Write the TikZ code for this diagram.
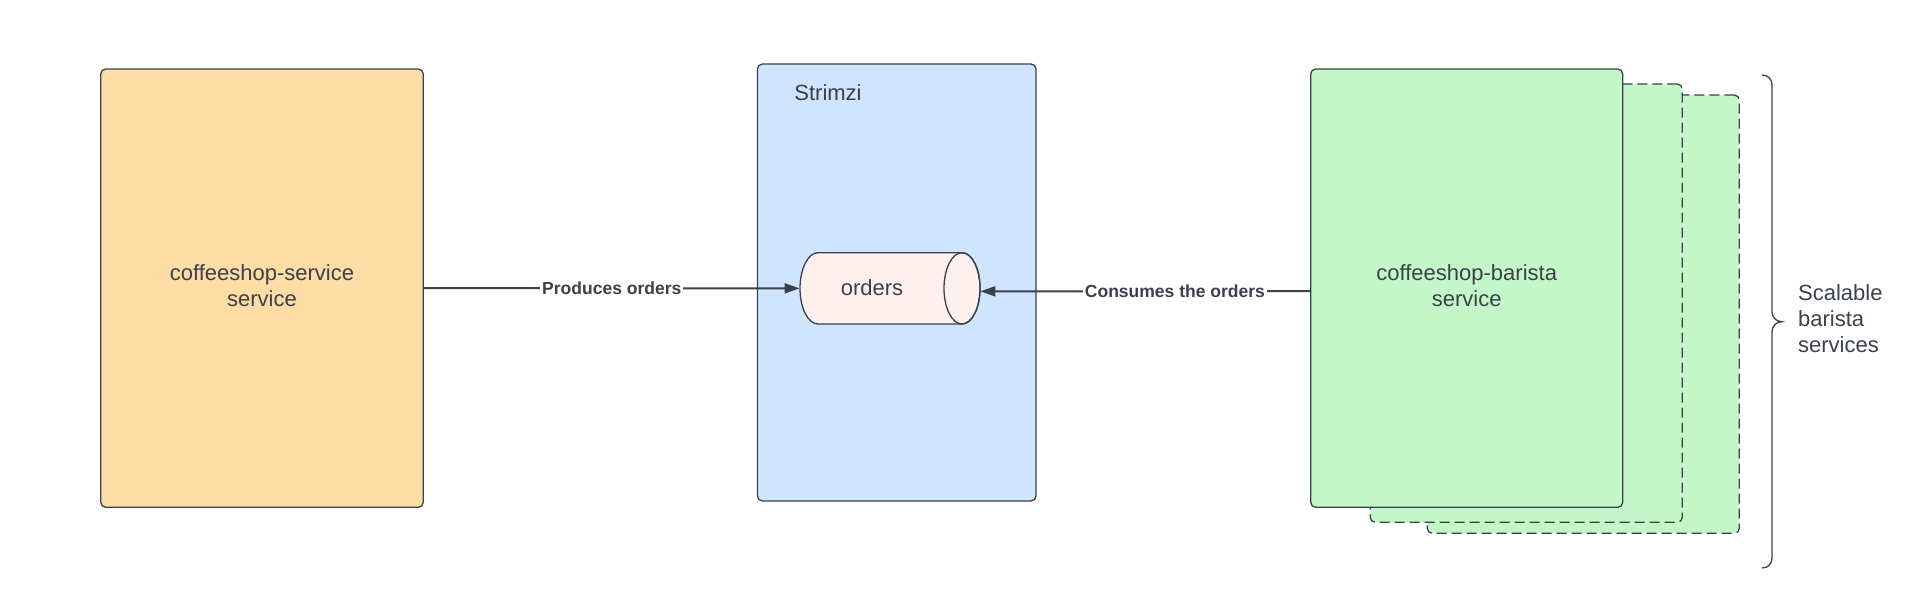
\documentclass[tikz,border=0pt]{standalone}
\usepackage{fontspec}
\setmainfont{Liberation Sans}
\usetikzlibrary{fit,arrows.meta}
\definecolor{ink}{HTML}{3A414A}
\definecolor{orangefill}{HTML}{FDDCA5}
\definecolor{bluefill}{HTML}{CFE4FF}
\definecolor{greenfill}{HTML}{C3F7C8}
\definecolor{cylfill}{HTML}{FEF0EE}
\begin{document}
\begin{tikzpicture}[x=0.5pt,y=-0.5pt,
  font=\fontsize{11pt}{13pt}\selectfont, text=ink,
  box/.style={draw=ink, line width=0.65pt, rounded corners=2.5pt, inner sep=0pt, align=center},
  ghost/.style={box, dash pattern=on 5pt off 2.5pt, fill=greenfill},
  conn/.style={draw=ink, line width=1pt, -{Triangle[length=7.5pt,width=5pt]}},
  lbl/.style={fill=white, inner xsep=1pt, inner ysep=1pt, text=ink,
    font=\fontsize{8.75pt}{10pt}\selectfont\bfseries},
  plain/.style={inner sep=0pt, text=ink}]
\useasboundingbox (0,0) rectangle (1926,614);

% left service
\node[box, fill=orangefill, fit={(100.7,69) (423.3,507.3)}] (svc) {};
\node[plain, align=center] (svctext) at (262,286) {coffeeshop-service\\service};

% Strimzi
\node[box, fill=bluefill, fit={(757.5,64) (1036,501)}] (strimzi) {};
\node[plain, anchor=west] (strimzilabel) at (794,92.7) {Strimzi};

% cylinder
\node[inner sep=0pt, fit={(800,252.7) (980,324)}] (orders) {};
\draw[draw=ink, line width=0.65pt, fill=cylfill]
  (962,252.7) -- (818,252.7)
  .. controls (808.06,252.7) and (800,268.66) .. (800,288.35)
  .. controls (800,308.04) and (808.06,324) .. (818,324)
  -- (962,324)
  .. controls (971.94,324) and (980,308.04) .. (980,288.35)
  .. controls (980,268.66) and (971.94,252.7) .. (962,252.7) -- cycle;
\draw[draw=ink, line width=0.65pt] (962,288.35) ellipse [x radius=18, y radius=35.65];
\node[plain] (orderstext) at (872,288) {orders};

% barista stack
\node[ghost, fit={(1427.3,95) (1739.3,533.3)}] (ghost2) {};
\node[ghost, fit={(1370.3,84) (1682.3,522.3)}] (ghost1) {};
\node[box, fill=greenfill, fit={(1310.7,69) (1622.7,507.3)}] (barista) {};
\node[plain, align=center] (baristatext) at (1466.7,286) {coffeeshop-barista\\service};

% connectors
\draw[conn] (svc.east) -- (orders.west) node[lbl, pos=0.5] (lblprod) {Produces orders};
\draw[conn] ([yshift=-1.5pt]barista.west) -- ([yshift=-1.5pt]orders.east)
  node[lbl, pos=0.41] (lblcons) {Consumes the orders};

% brace
\draw[draw=ink, line width=0.65pt]
  (1762,75) .. controls (1768,75) and (1772,79) .. (1772,85)
  -- (1772,311.7)
  .. controls (1772,317) and (1776,321.7) .. (1782,321.7)
  .. controls (1776,321.7) and (1772,326.4) .. (1772,331.7)
  -- (1772,558)
  .. controls (1772,564) and (1768,568) .. (1762,568);
\node[plain, anchor=west, align=left] (scalable) at (1797.7,319) {Scalable\\barista\\services};
\end{tikzpicture}
\end{document}
